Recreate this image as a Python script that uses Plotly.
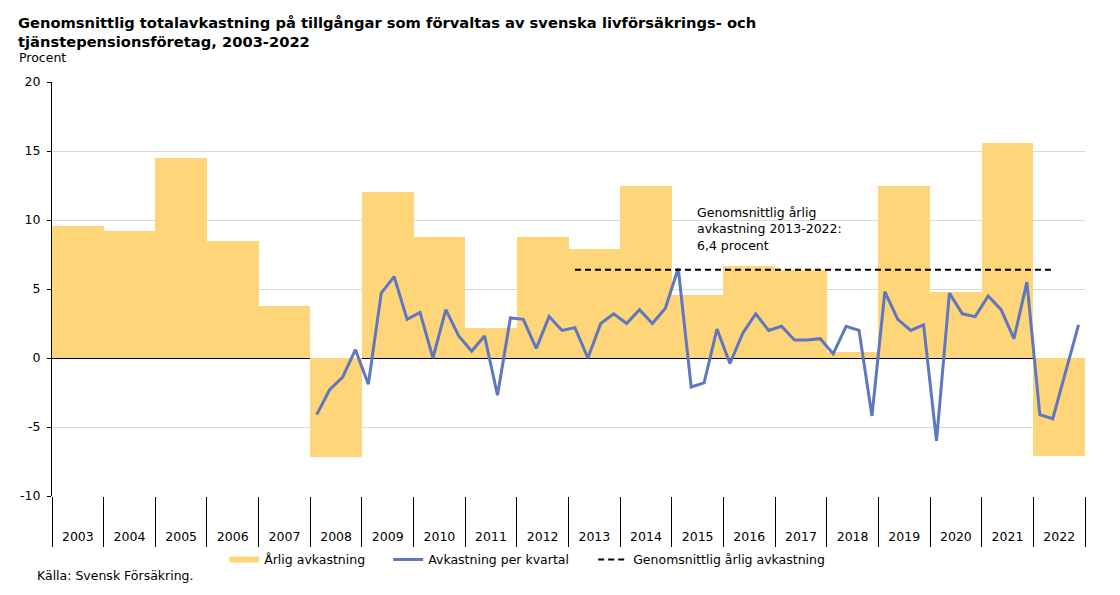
import plotly.graph_objects as go

# Årlig avkastning per år (procent)
years = list(range(2003, 2023))
annual = [9.6, 9.2, 14.5, 8.5, 3.8, -7.2, 12.0, 8.8, 2.2, 8.8,
          7.9, 12.5, 4.6, 6.7, 6.4, 0.4, 12.5, 4.8, 15.6, -7.1]

# Avkastning per kvartal, 2008 K1 - 2022 K4
q_years = [y for y in range(2008, 2023) for _ in range(4)]
q_nums = [1, 2, 3, 4] * 15
quarterly = [
    -4.1, -2.3, -1.4, 0.6,
    -1.9, 4.7, 5.9, 2.8,
    3.3, 0.0, 3.5, 1.6,
    0.5, 1.6, -2.7, 2.9,
    2.8, 0.7, 3.0, 2.0,
    2.2, 0.0, 2.5, 3.2,
    2.5, 3.5, 2.5, 3.6,
    6.5, -2.1, -1.8, 2.1,
    -0.4, 1.8, 3.2, 2.0,
    2.3, 1.3, 1.3, 1.4,
    0.3, 2.3, 2.0, -4.2,
    4.8, 2.8, 2.0, 2.4,
    -6.0, 4.7, 3.2, 3.0,
    4.5, 3.5, 1.4, 5.5,
    -4.1, -4.4, -1.0, 2.4,
]

# Genomsnittlig årlig avkastning 2013-2022, ritad från 2013 K1 till 2022 K2
avg_value = 6.4
avg_start = (2013, 1)
avg_end = (2022, 2)

y_ticks = [-10, -5, 0, 5, 10, 15, 20]
y_ticktext = ['-10', '-5', '0', '5', '10', '15', '20']

YELLOW = '#FFD579'
BLUE = '#5E77BF'
FONT = 'DejaVu Sans'

# sidan har 8 px marginal i webbläsaren, så figuren görs lite mindre
W, H = 1104, 579


def qpos(year, q):
    return (year - years[0]) + (q - 0.5) / 4 - 0.5


bar_x = [y - years[0] for y in years]
q_x = [qpos(y, q) for y, q in zip(q_years, q_nums)]

avg_x, avg_y = [], []
for y, q in zip(q_years, q_nums):
    if avg_start <= (y, q) <= avg_end:
        avg_x.append(qpos(y, q))
        avg_y.append(avg_value)

fig = go.Figure()
fig.add_trace(go.Bar(
    x=bar_x, y=annual, width=1,
    marker=dict(color=YELLOW, line=dict(width=0)),
    showlegend=False, name='Årlig avkastning',
))
fig.add_trace(go.Scatter(
    x=[None], y=[None], mode='lines',
    line=dict(color=YELLOW, width=6),
    name='Årlig avkastning', legendwidth=119,
))
fig.add_trace(go.Scatter(
    x=q_x, y=quarterly, mode='lines',
    line=dict(color=BLUE, width=3),
    name='Avkastning per kvartal', legendwidth=160,
))
fig.add_trace(go.Scatter(
    x=avg_x, y=avg_y, mode='lines',
    line=dict(color='black', width=2, dash='6px,4px'),
    name='Genomsnittlig årlig avkastning',
))

fig.update_layout(
    width=W, height=H,
    margin=dict(l=42, r=27, t=74, b=91),
    paper_bgcolor='white', plot_bgcolor='white',
    font=dict(family=FONT, size=12.5, color='black'),
    title=dict(
        text='Genomsnittlig totalavkastning på tillgångar som förvaltas av svenska livförsäkrings- och<br>'
             'tjänstepensionsföretag, 2003-2022',
        font=dict(family=FONT, size=14.7, color='black', weight='bold'),
        xref='container', yref='container',
        x=10 / W, xanchor='left', y=1 - 20 / H, yanchor='top',
    ),
    bargap=0,
    legend=dict(
        orientation='h', x=0.46, xanchor='center', y=-0.118, yanchor='top',
        font=dict(size=12.5), bgcolor='rgba(0,0,0,0)',
    ),
    xaxis=dict(
        range=[-0.5, len(years) - 0.5],
        tickmode='array', tickvals=bar_x, ticktext=[str(y) for y in years],
        ticks='outside', ticklen=29, tickcolor='rgba(0,0,0,0)',
        showgrid=False, zeroline=False, showline=False,
        minor=dict(tick0=-0.5, dtick=1, ticks='outside', ticklen=50,
                   tickcolor='black', tickwidth=1, showgrid=False),
    ),
    yaxis=dict(
        range=[-10, 20], tickmode='array', tickvals=y_ticks, ticktext=y_ticktext,
        ticks='outside', ticklen=4, tickcolor='black', ticklabelstandoff=4,
        showline=True, linecolor='black', linewidth=1,
        gridcolor='#D9D9D9', gridwidth=1,
        zeroline=True, zerolinecolor='black', zerolinewidth=1,
    ),
    annotations=[
        dict(text='Procent', xref='paper', yref='paper',
             x=-35 / 1035, y=1 + 15 / 414, xanchor='left', yanchor='bottom',
             showarrow=False, font=dict(size=12.5)),
        dict(text='Genomsnittlig årlig<br>avkastning 2013-2022:<br>6,4 procent',
             xref='x', yref='y', x=11.94, y=11.2, xanchor='left', yanchor='top',
             align='left', showarrow=False, font=dict(size=12.5)),
        dict(text='Källa: Svensk Försäkring.', xref='paper', yref='paper',
             x=-17 / 1035, y=-79 / 414, xanchor='left', yanchor='middle',
             showarrow=False, font=dict(size=12.5)),
    ],
)

fig.write_html('out.html')
